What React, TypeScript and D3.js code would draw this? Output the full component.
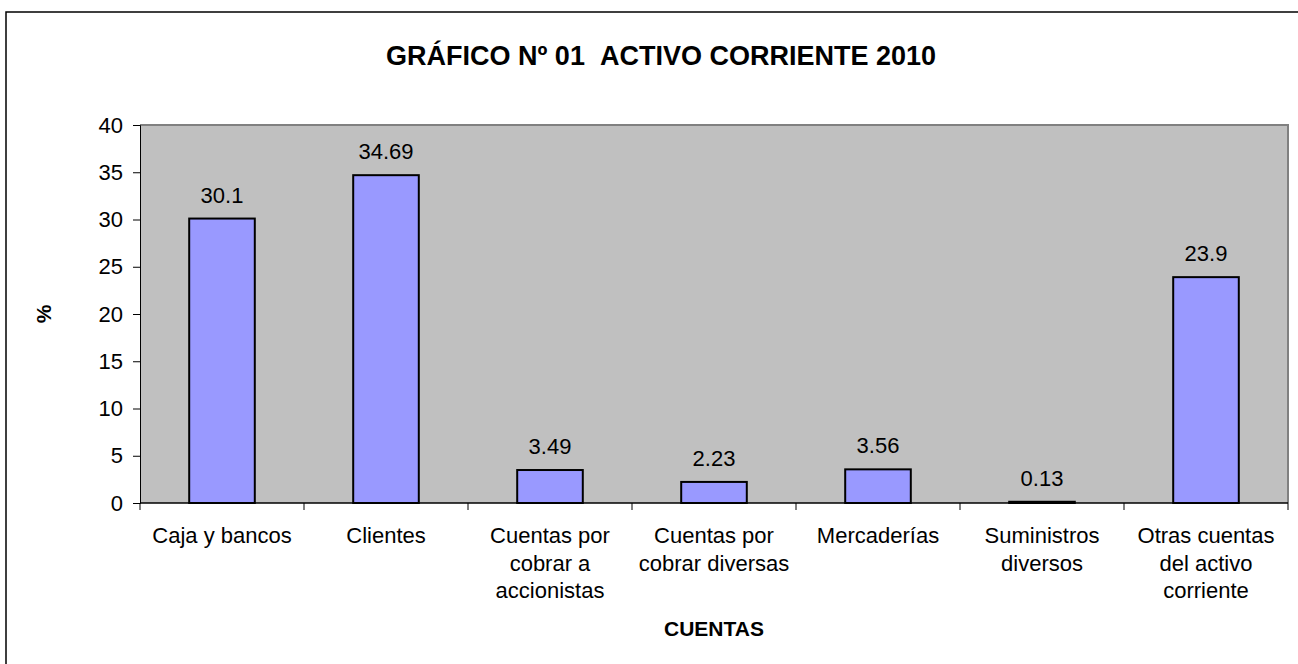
import React, { useEffect, useRef } from 'react';
import * as d3 from 'd3';

const categories = [
  'Caja y bancos',
  'Clientes',
  'Cuentas por cobrar a accionistas',
  'Cuentas por cobrar diversas',
  'Mercaderías',
  'Suministros diversos',
  'Otras cuentas del activo corriente',
];
const values = [30.1, 34.69, 3.49, 2.23, 3.56, 0.13, 23.9];
const valueLabels = ['30.1', '34.69', '3.49', '2.23', '3.56', '0.13', '23.9'];
const yTicks = [0, 5, 10, 15, 20, 25, 30, 35, 40];

const FONT = 'Arial, "Liberation Sans", sans-serif';

const App: React.FC = () => {
  const svgRef = useRef<SVGSVGElement>(null);
  const width = 1298;
  const height = 664;

  useEffect(() => {
    if (!svgRef.current) return;
    const svg = d3.select(svgRef.current);
    svg.selectAll('*').remove();

    const plot = { left: 140, right: 1288, top: 125, bottom: 503 };

    // outer chart border (runs past the right / bottom edge)
    svg.append('rect')
      .attr('x', 6).attr('y', 12)
      .attr('width', 1310).attr('height', 670)
      .attr('fill', '#fff')
      .attr('stroke', '#000')
      .attr('stroke-width', 1.5);

    svg.append('text')
      .attr('x', 661).attr('y', 65)
      .attr('text-anchor', 'middle')
      .attr('font-family', FONT)
      .attr('font-weight', 'bold')
      .attr('font-size', 27)
      .text('GRÁFICO Nº 01\u00a0\u00a0ACTIVO CORRIENTE 2010');

    const x = d3.scaleBand()
      .domain(categories)
      .range([plot.left, plot.right])
      .paddingInner(0.6)
      .paddingOuter(0.3);
    const band = d3.scaleBand().domain(categories).range([plot.left, plot.right]);

    const y = d3.scaleLinear().domain([0, 40]).range([plot.bottom, plot.top]);

    // plot area
    svg.append('rect')
      .attr('x', plot.left).attr('y', plot.top)
      .attr('width', plot.right - plot.left).attr('height', plot.bottom - plot.top)
      .attr('fill', '#c0c0c0');
    svg.append('path')
      .attr('d', `M${plot.left},${plot.top}H${plot.right}V${plot.bottom}`)
      .attr('fill', 'none')
      .attr('stroke', '#808080')
      .attr('stroke-width', 2);

    // bars
    svg.append('g')
      .selectAll('rect')
      .data(values)
      .join('rect')
      .attr('x', (_, i) => x(categories[i])!)
      .attr('y', d => y(d))
      .attr('width', x.bandwidth())
      .attr('height', d => y(0) - y(d))
      .attr('fill', '#9999ff')
      .attr('stroke', '#000')
      .attr('stroke-width', 2);

    // value labels
    svg.append('g')
      .selectAll('text')
      .data(values)
      .join('text')
      .attr('x', (_, i) => x(categories[i])! + x.bandwidth() / 2)
      .attr('y', d => y(d) - 16)
      .attr('text-anchor', 'middle')
      .attr('font-family', FONT)
      .attr('font-size', 22)
      .text((_, i) => valueLabels[i]);

    // y axis
    const yAxis = svg.append('g')
      .attr('transform', `translate(${plot.left},0)`)
      .call(d3.axisLeft(y).tickValues(yTicks).tickSize(7).tickPadding(10));
    yAxis.select('.domain').attr('stroke', '#000');
    yAxis.selectAll('text')
      .attr('font-family', FONT)
      .attr('font-size', 22)
      .attr('fill', '#000');

    // x axis
    const xAxisG = svg.append('g').attr('transform', `translate(0,${plot.bottom})`);
    xAxisG.append('line')
      .attr('x1', plot.left).attr('x2', plot.right)
      .attr('stroke', '#000').attr('stroke-width', 1.5);
    xAxisG.selectAll('line.tick')
      .data([...categories.map(c => band(c)!), plot.right])
      .join('line')
      .attr('class', 'tick')
      .attr('x1', d => d).attr('x2', d => d)
      .attr('y1', 0).attr('y2', 7)
      .attr('stroke', '#000');

    // category labels with wrapping
    const lineH = 27.5;
    categories.forEach(cat => {
      const cx = band(cat)! + band.bandwidth() / 2;
      const t = xAxisG.append('text')
        .attr('x', cx)
        .attr('y', 40)
        .attr('text-anchor', 'middle')
        .attr('font-family', FONT)
        .attr('font-size', 22);
      const words = cat.split(' ');
      let line: string[] = [];
      let tspan = t.append('tspan').attr('x', cx).attr('dy', 0);
      words.forEach(w => {
        line.push(w);
        tspan.text(line.join(' '));
        if ((tspan.node() as SVGTSpanElement).getComputedTextLength() > 158 && line.length > 1) {
          line.pop();
          tspan.text(line.join(' '));
          line = [w];
          tspan = t.append('tspan').attr('x', cx).attr('dy', lineH).text(w);
        }
      });
    });

    svg.append('text')
      .attr('x', (plot.left + plot.right) / 2).attr('y', 636)
      .attr('text-anchor', 'middle')
      .attr('font-family', FONT)
      .attr('font-weight', 'bold')
      .attr('font-size', 21)
      .text('CUENTAS');

    svg.append('text')
      .attr('transform', `translate(51,${(plot.top + plot.bottom) / 2}) rotate(-90)`)
      .attr('text-anchor', 'middle')
      .attr('font-family', FONT)
      .attr('font-weight', 'bold')
      .attr('font-size', 21)
      .text('%');
  }, []);

  return (
    <svg
      ref={svgRef}
      width={width}
      height={height}
      style={{ position: 'absolute', left: 0, top: 0, display: 'block' }}
    />
  );
};

export default App;
